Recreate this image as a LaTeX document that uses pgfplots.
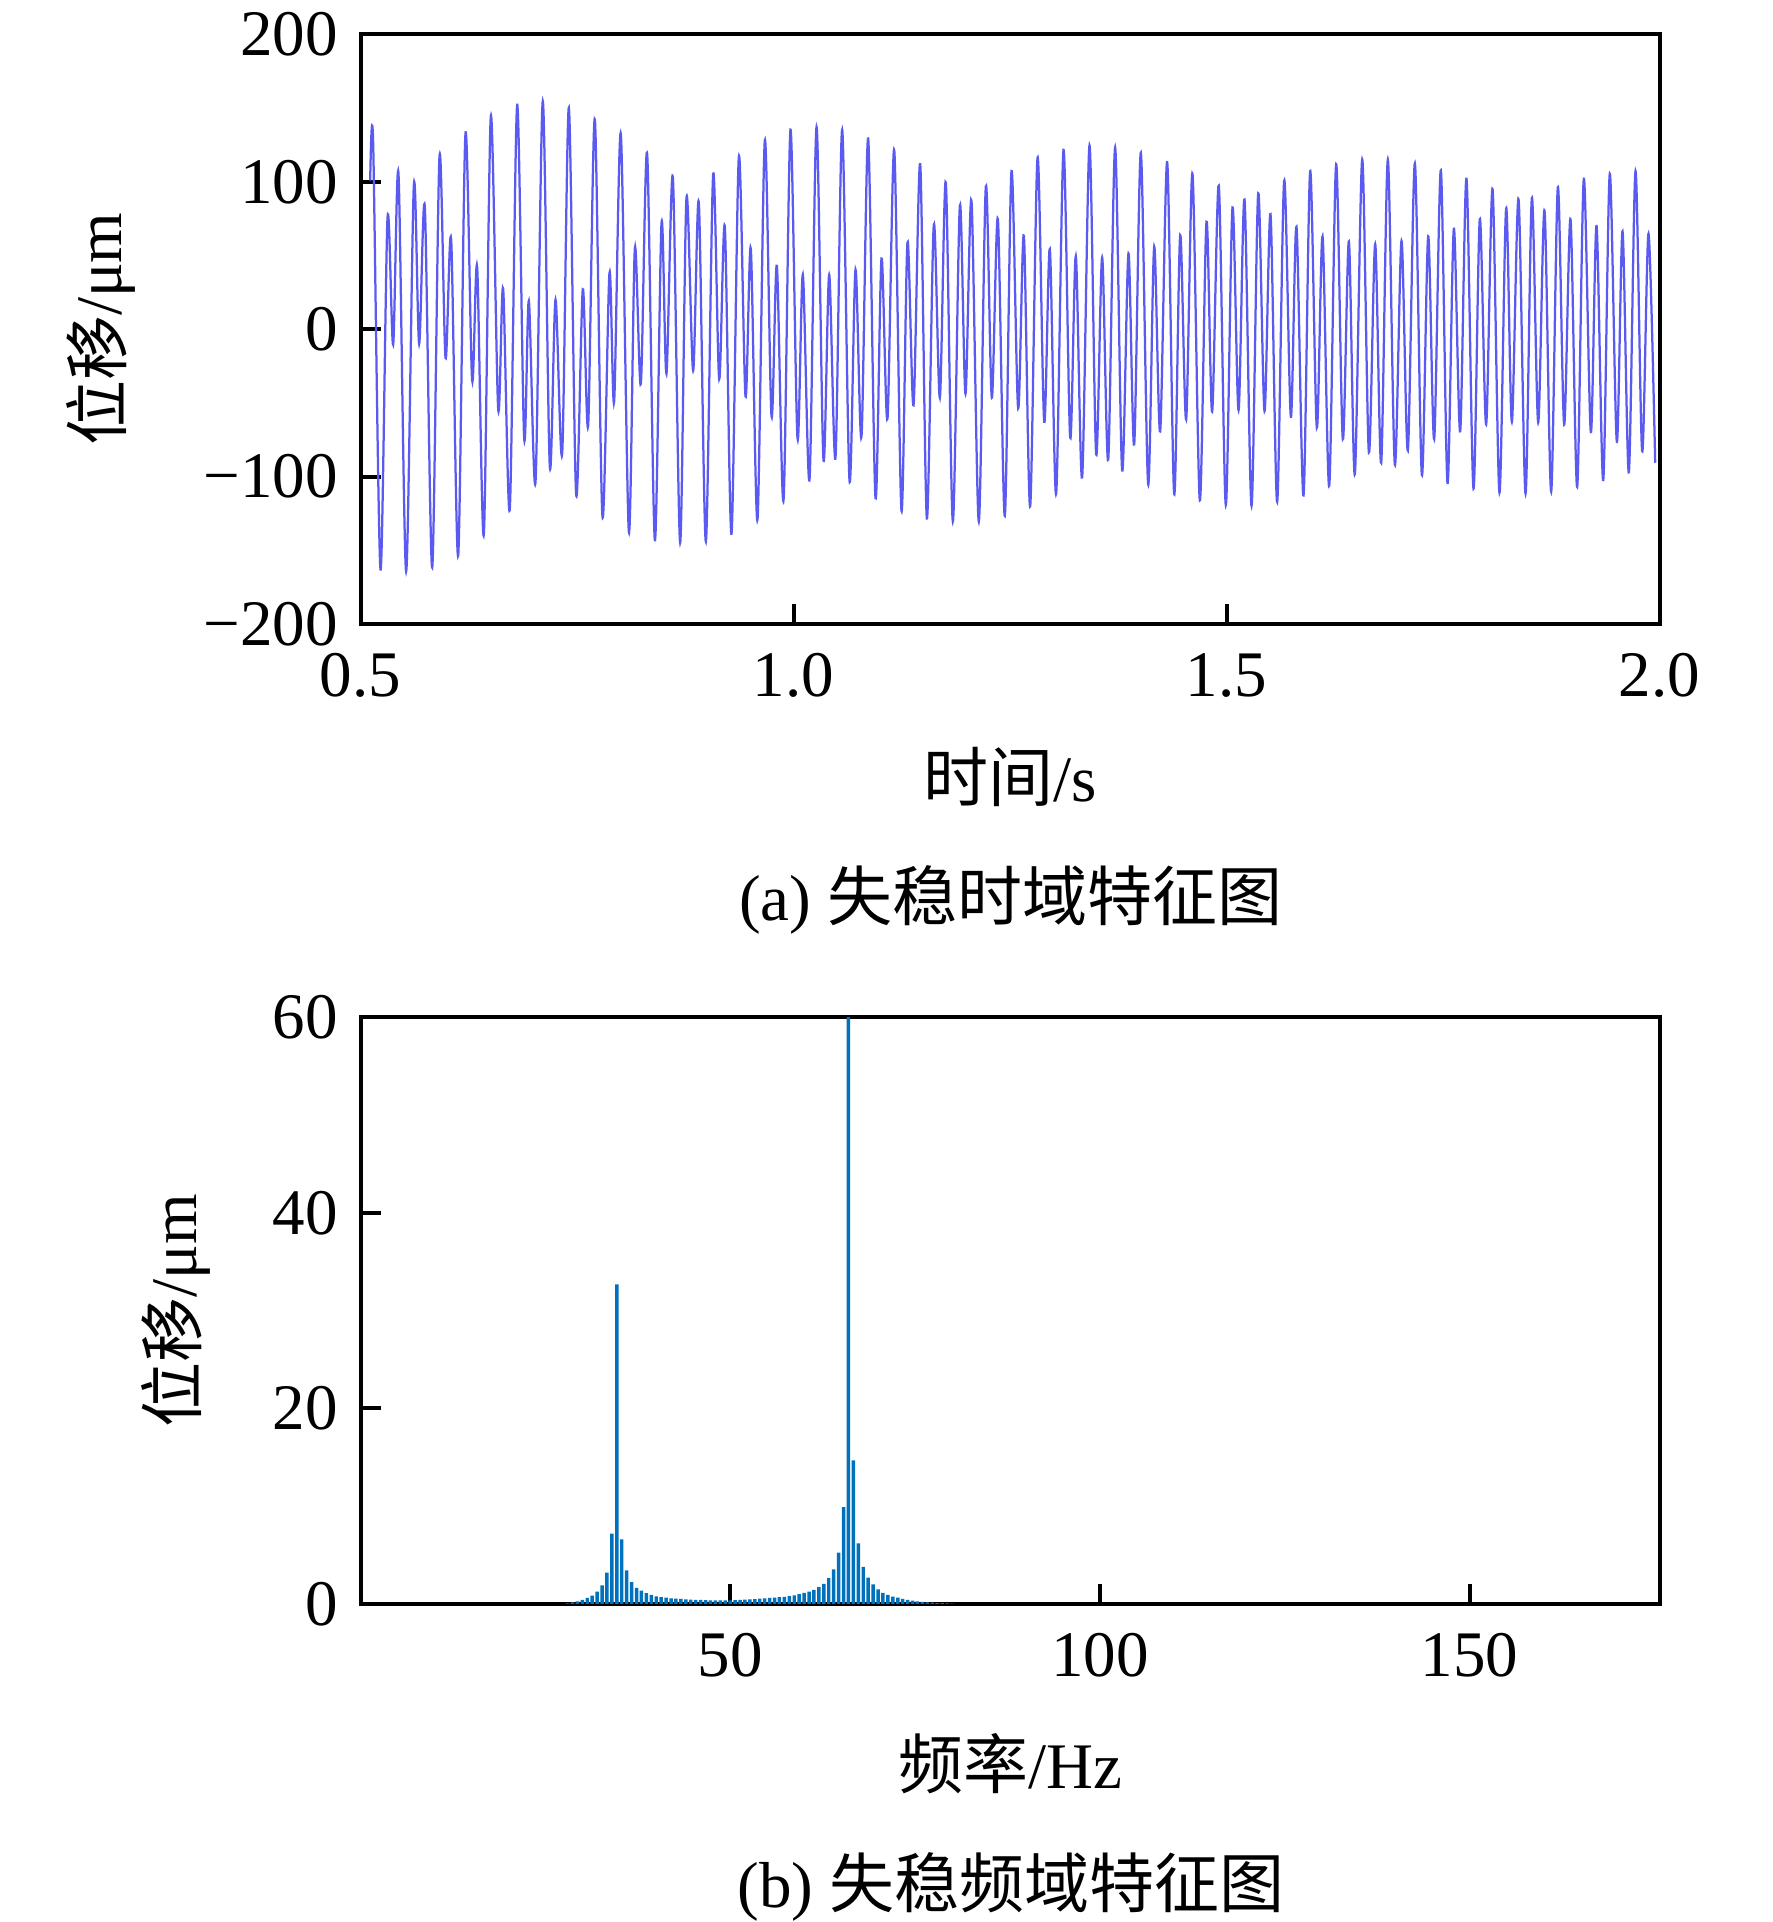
\documentclass[border=0pt]{standalone}
\usepackage{fontspec}
\setmainfont{Liberation Serif}
\newfontfamily\cjk{Noto Sans CJK SC}
\usepackage{pgfplots}
\pgfplotsset{compat=1.18}
\definecolor{linecol}{RGB}{90,90,240}
\definecolor{barcol}{RGB}{0,114,189}
\pgfplotsset{
 myax/.style={scale only axis, width=259.8pt, anchor=south west,
  tick align=inside, tick pos=left, major tick length=4pt,
  axis line style={line width=0.8pt}, major tick style={line width=0.8pt, black},
  /pgf/number format/assume math mode=true,
  xticklabel style={yshift=-1.3pt}, clip=true}
}
\begin{document}
\fontsize{13}{15.6}\selectfont
\begin{tikzpicture}
\path[use as bounding box] (0,0) rectangle (354.4pt,384.4pt);
\begin{axis}[myax, at={(72.1pt,259.6pt)}, height=117.9pt,
  xmin=0.5, xmax=2, ymin=-200, ymax=200,
  xtick={0.5,1,1.5,2}, xticklabels={0.5,1.0,1.5,2.0},
  ytick={-200,-100,0,100,200}, yticklabels={−200,−100,0,100,200},
  xlabel={{\cjk 时间}/s}, ylabel={{\cjk 位移}/μm},
  xlabel style={at={(axis description cs:0.5,-0.259)}, anchor=center},
  ylabel style={at={(axis description cs:-0.2,0.5)}, anchor=center}]
\addplot[linecol, line width=0.45pt, smooth, tension=0.5] coordinates {
(0.5112,100.8) (0.5146,126.8) (0.5231,-163.0) (0.5312,75.5) (0.5377,-10.4)
(0.5439,105.2) (0.5527,-164.3) (0.5616,97.7) (0.5677,-9.9) (0.5743,82.6)
(0.5828,-161.7) (0.5912,117.2) (0.5982,-19.5) (0.6047,60.7) (0.6128,-153.6)
(0.6212,132.6) (0.6289,-34.6) (0.6347,42.2) (0.6424,-139.3) (0.6505,144.5)
(0.6590,-54.2) (0.6647,27.6) (0.6724,-121.9) (0.6809,152.3) (0.6890,-74.0)
(0.6944,19.3) (0.7021,-103.6) (0.7105,154.7) (0.7186,-93.2) (0.7252,20.0)
(0.7329,-84.1) (0.7406,150.3) (0.7490,-112.0) (0.7567,27.1) (0.7629,-65.1)
(0.7706,142.4) (0.7794,-127.1) (0.7875,38.3) (0.7929,-49.0) (0.8006,132.6)
(0.8099,-137.5) (0.8168,54.7) (0.8237,-37.2) (0.8310,119.0) (0.8399,-143.2)
(0.8476,72.1) (0.8533,-30.2) (0.8607,102.9) (0.8691,-144.8) (0.8764,89.1)
(0.8841,-28.1) (0.8907,85.7) (0.8988,-144.0) (0.9072,104.7) (0.9142,-33.9)
(0.9207,69.5) (0.9284,-138.8) (0.9369,116.9) (0.9446,-45.6) (0.9507,54.7)
(0.9584,-129.2) (0.9669,128.1) (0.9746,-58.9) (0.9808,43.0) (0.9885,-116.1)
(0.9965,135.4) (1.0046,-74.0) (1.0108,37.0) (1.0185,-101.8) (1.0266,137.2)
(1.0346,-88.5) (1.0412,37.0) (1.0485,-87.0) (1.0562,135.4) (1.0647,-102.9)
(1.0716,40.4) (1.0785,-72.9) (1.0862,129.4) (1.0947,-114.6) (1.1016,47.9)
(1.1085,-60.7) (1.1163,121.6) (1.1247,-123.2) (1.1316,58.9) (1.1386,-51.6)
(1.1463,112.0) (1.1540,-128.4) (1.1620,70.8) (1.1690,-46.4) (1.1759,99.5)
(1.1840,-130.5) (1.1921,83.9) (1.1986,-43.8) (1.2055,87.2) (1.2140,-130.5)
(1.2221,96.9) (1.2290,-46.4) (1.2360,74.7) (1.2440,-126.6) (1.2517,107.3)
(1.2594,-53.6) (1.2660,63.5) (1.2733,-120.1) (1.2818,116.4) (1.2895,-62.8)
(1.2960,54.4) (1.3033,-111.5) (1.3118,121.6) (1.3195,-73.7) (1.3260,49.5)
(1.3333,-100.5) (1.3418,124.7) (1.3495,-84.9) (1.3564,48.7) (1.3634,-88.5)
(1.3714,123.4) (1.3795,-95.8) (1.3868,51.3) (1.3934,-78.1) (1.4011,119.8)
(1.4095,-105.2) (1.4165,56.0) (1.4234,-69.3) (1.4315,113.3) (1.4396,-112.0)
(1.4465,63.8) (1.4534,-61.2) (1.4607,105.5) (1.4692,-116.1) (1.4769,72.9)
(1.4834,-56.0) (1.4911,97.4) (1.4992,-119.3) (1.5069,82.6) (1.5139,-55.0)
(1.5208,88.0) (1.5289,-119.8) (1.5366,92.2) (1.5439,-55.5) (1.5508,78.1)
(1.5585,-117.2) (1.5666,100.8) (1.5743,-59.4) (1.5808,69.5) (1.5889,-112.8)
(1.5966,107.3) (1.6043,-66.7) (1.6109,63.0) (1.6186,-106.3) (1.6266,112.0)
(1.6343,-74.5) (1.6413,59.6) (1.6482,-98.4) (1.6567,115.1) (1.6644,-83.6)
(1.6717,57.8) (1.6786,-90.6) (1.6863,115.1) (1.6944,-91.9) (1.7021,59.9)
(1.7094,-82.3) (1.7175,112.5) (1.7256,-99.0) (1.7329,63.0) (1.7398,-74.5)
(1.7475,107.8) (1.7552,-104.4) (1.7625,68.2) (1.7698,-69.3) (1.7771,102.1)
(1.7852,-108.1) (1.7925,74.7) (1.7998,-64.6) (1.8072,95.1) (1.8152,-110.9)
(1.8229,82.0) (1.8295,-62.8) (1.8372,88.3) (1.8453,-111.5) (1.8526,89.1)
(1.8599,-63.3) (1.8672,80.5) (1.8749,-110.2) (1.8826,96.4) (1.8899,-64.6)
(1.8972,74.7) (1.9049,-107.0) (1.9126,102.1) (1.9207,-69.8) (1.9273,70.0)
(1.9350,-102.3) (1.9426,105.5) (1.9507,-76.3) (1.9573,66.4) (1.9646,-97.1)
(1.9723,107.3) (1.9800,-82.8) (1.9873,64.8) (1.9950,-90.6)
};
\end{axis}
\begin{axis}[myax, at={(72.1pt,63.6pt)}, height=117.3pt,
  xmin=0, xmax=175.7, ymin=0, ymax=60,
  xtick={50,100,150}, xticklabels={50,100,150},
  ytick={0,20,40,60}, yticklabels={0,20,40,60},
  xticklabel style={yshift=0pt},
  xlabel={{\cjk 频率}/Hz}, ylabel={{\cjk 位移}/μm},
  xlabel style={at={(axis description cs:0.5,-0.272)}, anchor=center},
  ylabel style={at={(axis description cs:-0.142,0.5)}, anchor=center}]
\addplot[ybar, bar width=0.47, fill=barcol, draw=none] coordinates {
(28.000,0.07) (28.667,0.17) (29.333,0.27) (30.000,0.41) (30.667,0.62)
(31.333,0.86) (32.000,1.27) (32.667,1.9) (33.333,3.2) (34.000,7.2)
(34.667,32.7) (35.333,6.6) (36.000,3.44) (36.667,2.23) (37.333,1.65)
(38.000,1.37) (38.667,1.1) (39.333,0.93) (40.000,0.79) (40.667,0.69)
(41.333,0.65) (42.000,0.58) (42.667,0.55) (43.333,0.52) (44.000,0.48)
(44.667,0.45) (45.333,0.42) (46.000,0.41) (46.667,0.39) (47.333,0.38)
(48.000,0.37) (48.667,0.37) (49.333,0.37) (50.000,0.38) (50.667,0.39)
(51.333,0.41) (52.000,0.44) (52.667,0.47) (53.333,0.51) (54.000,0.55)
(54.667,0.58) (55.333,0.62) (56.000,0.66) (56.667,0.70) (57.333,0.74)
(58.000,0.80) (58.667,0.88) (59.333,1.00) (60.000,1.13) (60.667,1.27)
(61.333,1.45) (62.000,1.72) (62.667,2.06) (63.333,2.65) (64.000,3.55)
(64.667,5.25) (65.333,9.9) (66.000,63) (66.667,14.7) (67.333,6.2)
(68.000,3.8) (68.667,2.7) (69.333,2.0) (70.000,1.5) (70.667,1.15)
(71.333,0.93) (72.000,0.76) (72.667,0.65) (73.333,0.52) (74.000,0.42)
(74.667,0.34) (75.333,0.27) (76.000,0.21) (76.667,0.17) (77.333,0.14)
(78.000,0.10) (78.667,0.08) (79.333,0.06) (80.000,0.04)
};
\end{axis}
\node at (202.2pt,204.5pt) {(a) {\cjk 失稳时域特征图}};
\node at (202.2pt,7.1pt) {(b) {\cjk 失稳频域特征图}};
\end{tikzpicture}
\end{document}
